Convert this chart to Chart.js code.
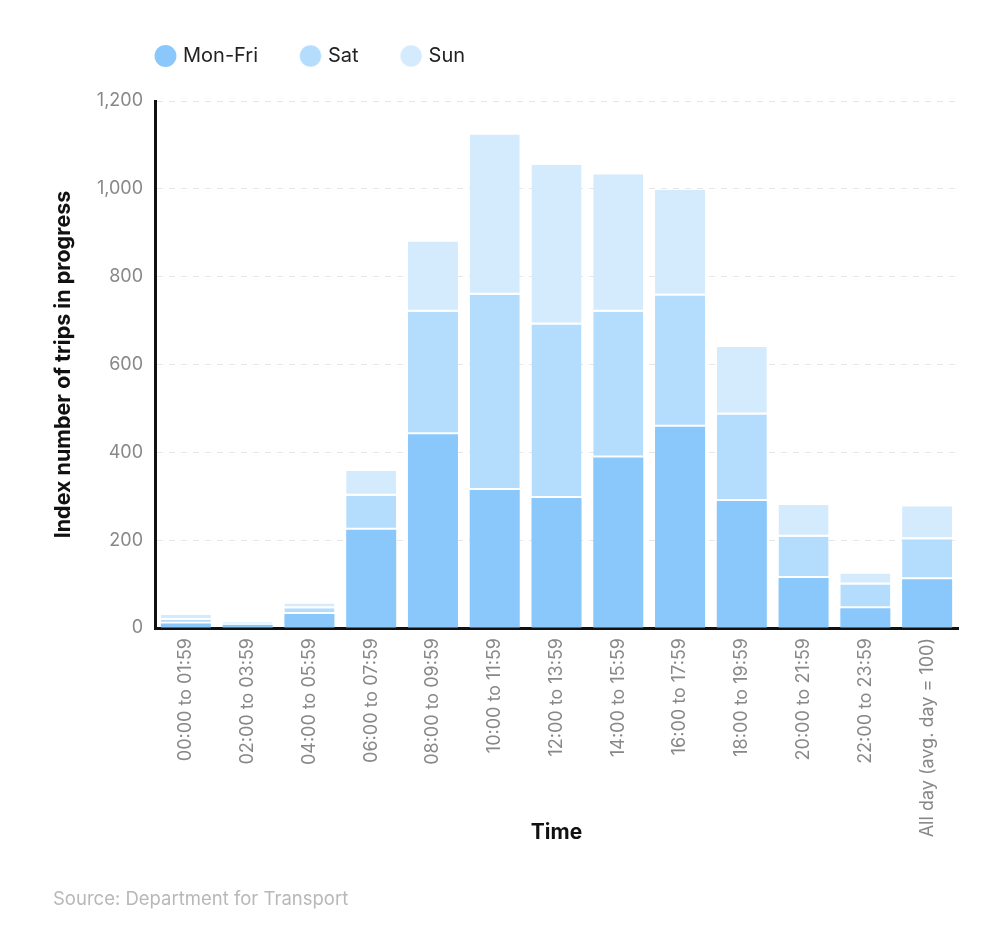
<!DOCTYPE html>
<html>
<head>
<meta charset="utf-8">
<title>Trips in progress by time of day</title>
<script src="https://cdn.jsdelivr.net/npm/chart.js@4/dist/chart.umd.min.js"></script>
<style>
  html, body { margin: 0; padding: 0; background: #fff; }
  #wrap { position: relative; width: 1000px; height: 948px; }
  #source {
    position: absolute; left: 53px; top: 887px;
    font: 18.5px Inter, "Liberation Sans", sans-serif; color: #b8b8b8;
  }
</style>
</head>
<body>
<div id="wrap">
  <canvas id="chart"></canvas>
  <div id="source">Source: Department for Transport</div>
</div>
<script>
  // ---- data ----
  const timeLabels = [
    "00:00 to 01:59", "02:00 to 03:59", "04:00 to 05:59", "06:00 to 07:59",
    "08:00 to 09:59", "10:00 to 11:59", "12:00 to 13:59", "14:00 to 15:59",
    "16:00 to 17:59", "18:00 to 19:59", "20:00 to 21:59", "22:00 to 23:59",
    "All day (avg. day = 100)"
  ];
  const monFri = [10, 7, 32, 224, 441, 314, 296, 388, 458, 289, 114, 45, 111];
  const saturday = [8, 3, 13, 77, 279, 445, 395, 332, 299, 197, 94, 54, 91];
  const sunday = [12, 3, 11, 57, 160, 365, 364, 313, 241, 154, 72, 25, 75];
  const yTicks = [0, 200, 400, 600, 800, 1000, 1200];

  const FONT = "Inter, 'Liberation Sans', sans-serif";

  // legend sits above the plot, lined up with the y axis
  const legendOffset = {
    id: "legendOffset",
    afterLayout(chart) {
      const lg = chart.legend;
      if (!lg) return;
      const dx = chart.chartArea.left + 3 - lg.left - lg.options.labels.padding;
      lg.left += dx; lg.right += dx;
      lg.top -= 25; lg.bottom -= 25;
    }
  };

  // white gap between stacked segments (drawn on the bottom edge so bar tops stay exact)
  const barStyle = (sep) => ({
    borderColor: "#ffffff",
    borderSkipped: false,
    borderWidth: { top: 0, right: 0, bottom: sep, left: 0 },
    barPercentage: 0.81,
    categoryPercentage: 1
  });

  new Chart(document.getElementById("chart"), {
    type: "bar",
    data: {
      labels: timeLabels,
      datasets: [
        Object.assign({ label: "Mon-Fri", data: monFri, backgroundColor: "#8ac8fc" }, barStyle(0)),
        Object.assign({ label: "Sat", data: saturday, backgroundColor: "#b4dcfd" }, barStyle(2)),
        Object.assign({ label: "Sun", data: sunday, backgroundColor: "#d4ebfe" }, barStyle(2))
      ]
    },
    options: {
      responsive: true,
      maintainAspectRatio: false,
      animation: false,
      layout: { padding: { top: 26, left: 40, right: 42, bottom: 103 } },
      plugins: {
        legend: {
          position: "top",
          align: "start",
          labels: {
            usePointStyle: true,
            pointStyle: "circle",
            boxWidth: 15,
            boxHeight: 15.5,
            padding: 45,
            color: "#222",
            font: { family: FONT, size: 20 }
          }
        },
        tooltip: { enabled: true }
      },
      scales: {
        x: {
          stacked: true,
          afterFit: (scale) => { scale.height = 217; },
          grid: { display: false, drawTicks: false },
          border: { color: "#111", width: 3 },
          ticks: {
            autoSkip: false,
            minRotation: 90,
            maxRotation: 90,
            padding: 10,
            color: "#888",
            font: { family: FONT, size: 18 }
          },
          title: {
            display: true,
            text: "Time",
            color: "#111",
            padding: { top: 0, bottom: 0 },
            font: { family: FONT, size: 21, weight: "bold" }
          }
        },
        y: {
          stacked: true,
          min: 0,
          max: 1200,
          afterFit: (scale) => { scale.width = 115; },
          afterBuildTicks: (scale) => { scale.ticks = yTicks.map((v) => ({ value: v })); },
          grid: { color: "#e6e6e6", lineWidth: 1, drawTicks: false },
          border: { color: "#111", width: 3, dash: [6, 6] },
          ticks: {
            padding: 12,
            color: "#888",
            font: { family: FONT, size: 18 },
            callback: (v) => v.toLocaleString("en-US")
          },
          title: {
            display: true,
            text: "Index number of trips in progress",
            color: "#111",
            padding: { top: 11, bottom: 0 },
            font: { family: FONT, size: 21.5, weight: "bold" }
          }
        }
      }
    },
    plugins: [legendOffset]
  });
</script>
</body>
</html>
